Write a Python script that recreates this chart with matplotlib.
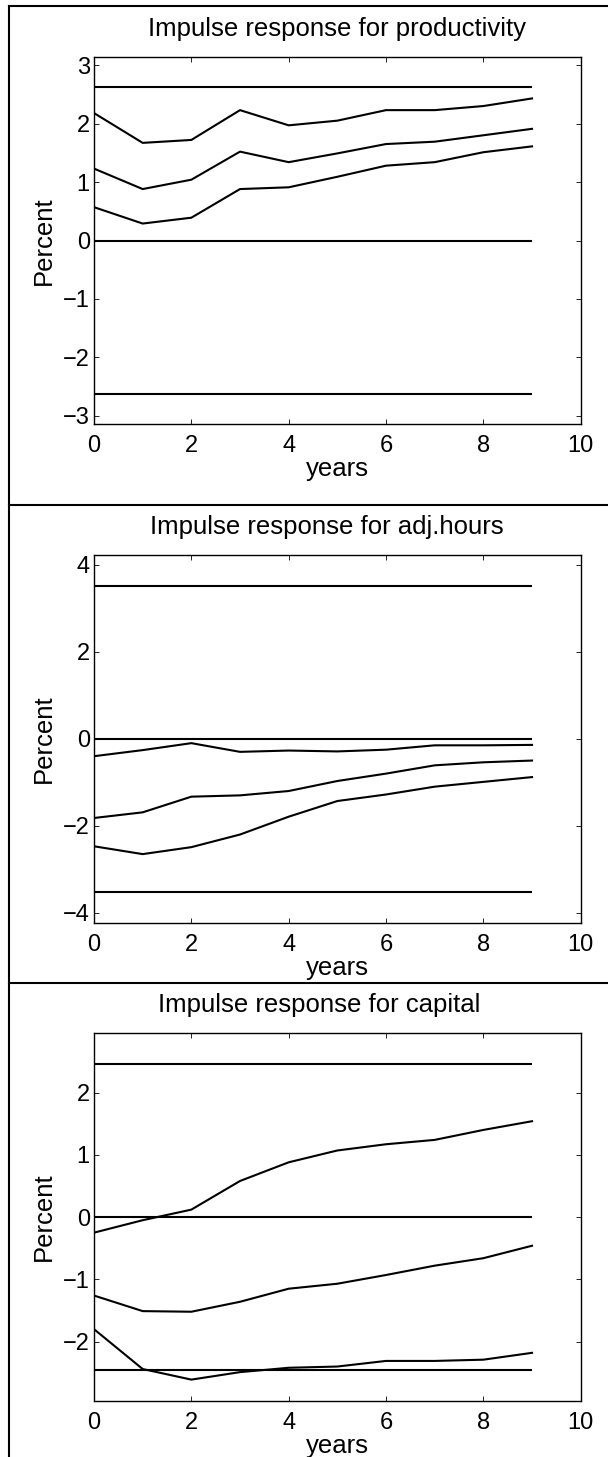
import matplotlib
matplotlib.use("Agg")
import matplotlib.pyplot as plt
from matplotlib.lines import Line2D
import numpy as np

plt.rcParams['font.family'] = ['Liberation Sans', 'DejaVu Sans']

# ---------------- data ----------------
years = [0, 1, 2, 3, 4, 5, 6, 7, 8, 9]

titles = ["Impulse response for productivity",
          "Impulse response for adj.hours   ",
          "Impulse response for capital     "]

prod_upper = [2.18, 1.67, 1.72, 2.23, 1.97, 2.05, 2.23, 2.23, 2.30, 2.43]
prod_mid   = [1.23, 0.88, 1.04, 1.52, 1.34, 1.49, 1.65, 1.69, 1.80, 1.91]
prod_lower = [0.57, 0.29, 0.39, 0.88, 0.91, 1.09, 1.28, 1.34, 1.51, 1.61]

hours_upper = [-0.40, -0.26, -0.10, -0.30, -0.27, -0.29, -0.25, -0.15, -0.15, -0.14]
hours_mid   = [-1.82, -1.69, -1.33, -1.30, -1.20, -0.97, -0.80, -0.61, -0.54, -0.50]
hours_lower = [-2.47, -2.65, -2.49, -2.20, -1.79, -1.43, -1.28, -1.10, -0.99, -0.88]

cap_upper = [-0.25, -0.05, 0.12, 0.58, 0.88, 1.07, 1.17, 1.24, 1.40, 1.54]
cap_mid   = [-1.26, -1.51, -1.52, -1.36, -1.15, -1.07, -0.93, -0.78, -0.66, -0.46]
cap_lower = [-1.80, -2.44, -2.61, -2.49, -2.42, -2.40, -2.31, -2.31, -2.29, -2.18]

bands = [2.62, 3.52, 2.46]
yticks = [[-3, -2, -1, 0, 1, 2, 3], [-4, -2, 0, 2, 4], [-2, -1, 0, 1, 2]]
xticks = [0, 2, 4, 6, 8, 10]

series = [(prod_upper, prod_mid, prod_lower),
          (hours_upper, hours_mid, hours_lower),
          (cap_upper, cap_mid, cap_lower)]

# ---------------- layout (pixels) ----------------
W, H = 608, 1457
fig = plt.figure(figsize=(W / 100, H / 100), dpi=100)
fig.patch.set_facecolor('white')

ax_left, ax_right = 94.0, 580.7
ax_tops = [56.7, 555.0, 1033.3]
ax_h = 367.6
borders_y = [6.0, 505.0, 983.3]
border_x = 9.0

TICK_FS = 17
LAB_FS = 18.5
LW = 1.5

for i in range(3):
    top = ax_tops[i]
    bot = top + ax_h
    ax = fig.add_axes([ax_left / W, 1 - bot / H, (ax_right - ax_left) / W, ax_h / H])
    up, mid, lo = series[i]
    b = bands[i]
    ax.plot(years, up, color='black', lw=LW)
    ax.plot(years, mid, color='black', lw=LW)
    ax.plot(years, lo, color='black', lw=LW)
    ax.hlines([b, 0, -b], years[0], years[-1], colors='black', lw=LW)
    ax.set_xlim(0, 10)
    ax.set_ylim(-1.2 * b, 1.2 * b)
    ax.set_xticks(xticks)
    ax.set_yticks(yticks[i])
    ax.tick_params(direction='in', length=3.6, width=0.6, top=True, right=True,
                   labelsize=TICK_FS, colors='black')
    ax.tick_params(axis='x', pad=8)
    ax.tick_params(axis='y', pad=3)
    for s in ax.spines.values():
        s.set_linewidth(1.0)
        s.set_color('black')

    cx = (ax_left + ax_right) / 2
    fig.text(cx / W, 1 - (top - 21) / H, titles[i], ha='center', va='baseline',
             fontsize=LAB_FS)
    fig.text(cx / W, 1 - (bot + 52) / H, "years", ha='center', va='baseline',
             fontsize=LAB_FS)
    fig.text(50.7 / W, 1 - ((top + bot) / 2) / H, "Percent", rotation=90,
             ha='center', va='baseline', rotation_mode='anchor', fontsize=LAB_FS)

# frame lines
fig.add_artist(Line2D([border_x / W, border_x / W], [1 - borders_y[0] / H, 0],
                      color='black', lw=1.5, transform=fig.transFigure))
for yb in borders_y:
    fig.add_artist(Line2D([border_x / W, 1], [1 - yb / H, 1 - yb / H],
                          color='black', lw=1.5, transform=fig.transFigure))

fig.savefig("out.png", dpi=100, facecolor='white')
